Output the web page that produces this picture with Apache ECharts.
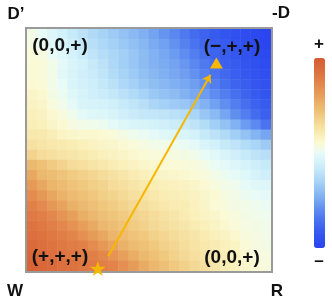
<!DOCTYPE html>
<html><head><meta charset="utf-8">
<script src="https://cdn.jsdelivr.net/npm/echarts/dist/echarts.min.js"></script>
<style>html,body{margin:0;padding:0;background:#fff}#c{width:332px;height:302px}</style>
</head><body><div id="c"></div>
<script>
// Field values (−1 = deep blue, +1 = deep orange), rows from top (D' / -D edge) to bottom (W / R edge), columns left to right
const fieldRows = [
  [0.05,0.00,-0.06,-0.11,-0.16,-0.21,-0.26,-0.30,-0.34,-0.38,-0.42,-0.46,-0.51,-0.57,-0.62,-0.68,-0.74,-0.79,-0.83,-0.87,-0.90,-0.93,-0.96,-0.99],
  [0.07,0.02,-0.03,-0.08,-0.13,-0.18,-0.23,-0.27,-0.31,-0.35,-0.39,-0.43,-0.48,-0.52,-0.58,-0.64,-0.70,-0.76,-0.81,-0.84,-0.88,-0.91,-0.95,-0.98],
  [0.09,0.07,0.00,-0.05,-0.10,-0.15,-0.20,-0.24,-0.28,-0.32,-0.36,-0.41,-0.45,-0.49,-0.54,-0.60,-0.66,-0.72,-0.78,-0.82,-0.86,-0.89,-0.92,-0.97],
  [0.10,0.09,0.04,-0.02,-0.07,-0.11,-0.16,-0.21,-0.27,-0.32,-0.36,-0.41,-0.45,-0.48,-0.51,-0.56,-0.62,-0.68,-0.74,-0.80,-0.83,-0.87,-0.90,-0.93],
  [0.10,0.09,0.05,-0.03,-0.08,-0.12,-0.15,-0.19,-0.25,-0.30,-0.34,-0.39,-0.43,-0.46,-0.49,-0.53,-0.58,-0.64,-0.70,-0.76,-0.81,-0.85,-0.88,-0.91],
  [0.11,0.10,0.05,0.00,-0.07,-0.11,-0.13,-0.17,-0.22,-0.27,-0.31,-0.36,-0.40,-0.43,-0.46,-0.49,-0.53,-0.59,-0.66,-0.72,-0.78,-0.82,-0.86,-0.89],
  [0.14,0.12,0.06,0.02,-0.05,-0.09,-0.12,-0.14,-0.17,-0.22,-0.26,-0.30,-0.35,-0.38,-0.41,-0.45,-0.49,-0.54,-0.60,-0.66,-0.72,-0.78,-0.83,-0.87],
  [0.16,0.14,0.08,0.04,-0.02,-0.07,-0.09,-0.10,-0.12,-0.16,-0.19,-0.23,-0.28,-0.31,-0.34,-0.36,-0.40,-0.45,-0.52,-0.59,-0.66,-0.73,-0.79,-0.83],
  [0.18,0.16,0.12,0.08,0.03,-0.02,-0.05,-0.06,-0.08,-0.12,-0.15,-0.17,-0.18,-0.20,-0.22,-0.24,-0.29,-0.36,-0.42,-0.50,-0.59,-0.66,-0.74,-0.80],
  [0.19,0.18,0.14,0.11,0.07,0.05,0.04,0.02,-0.02,-0.05,-0.07,-0.08,-0.10,-0.12,-0.14,-0.16,-0.20,-0.25,-0.32,-0.38,-0.45,-0.54,-0.61,-0.70],
  [0.23,0.22,0.19,0.15,0.13,0.12,0.12,0.11,0.09,0.06,0.03,0.01,-0.02,-0.04,-0.06,-0.07,-0.11,-0.16,-0.21,-0.26,-0.32,-0.38,-0.44,-0.50],
  [0.27,0.25,0.23,0.22,0.20,0.18,0.16,0.14,0.13,0.11,0.09,0.07,0.05,0.04,0.03,0.01,-0.02,-0.07,-0.11,-0.16,-0.20,-0.25,-0.29,-0.34],
  [0.35,0.30,0.28,0.26,0.24,0.22,0.20,0.18,0.16,0.14,0.12,0.10,0.09,0.08,0.07,0.06,0.04,0.00,-0.03,-0.08,-0.12,-0.16,-0.20,-0.23],
  [0.48,0.44,0.39,0.35,0.30,0.28,0.25,0.23,0.20,0.18,0.16,0.13,0.12,0.11,0.10,0.09,0.08,0.05,0.01,-0.02,-0.06,-0.09,-0.13,-0.16],
  [0.56,0.49,0.46,0.43,0.39,0.36,0.33,0.30,0.27,0.24,0.21,0.18,0.15,0.14,0.13,0.12,0.10,0.08,0.05,0.02,-0.01,-0.05,-0.09,-0.12],
  [0.63,0.56,0.50,0.47,0.43,0.40,0.37,0.34,0.30,0.28,0.25,0.22,0.20,0.18,0.17,0.16,0.14,0.11,0.08,0.05,0.03,-0.01,-0.04,-0.06],
  [0.70,0.64,0.57,0.51,0.47,0.44,0.41,0.37,0.34,0.31,0.28,0.26,0.23,0.20,0.19,0.18,0.16,0.13,0.11,0.07,0.05,0.02,0.00,-0.02],
  [0.76,0.71,0.64,0.58,0.52,0.48,0.45,0.41,0.38,0.35,0.32,0.29,0.26,0.23,0.21,0.20,0.17,0.14,0.10,0.08,0.06,0.05,0.03,0.01],
  [0.80,0.77,0.72,0.66,0.60,0.53,0.49,0.45,0.42,0.39,0.36,0.33,0.30,0.27,0.24,0.21,0.18,0.15,0.13,0.10,0.08,0.06,0.04,0.03],
  [0.84,0.81,0.77,0.73,0.67,0.61,0.55,0.49,0.46,0.43,0.39,0.36,0.32,0.29,0.27,0.24,0.21,0.18,0.15,0.12,0.09,0.07,0.06,0.04],
  [0.87,0.84,0.81,0.78,0.74,0.68,0.62,0.56,0.50,0.47,0.43,0.40,0.36,0.33,0.30,0.27,0.24,0.21,0.18,0.16,0.12,0.08,0.07,0.05],
  [0.90,0.87,0.84,0.81,0.79,0.76,0.70,0.64,0.58,0.52,0.47,0.44,0.40,0.36,0.33,0.29,0.26,0.23,0.21,0.18,0.15,0.10,0.07,0.06],
  [0.92,0.90,0.87,0.84,0.82,0.79,0.77,0.72,0.66,0.60,0.54,0.48,0.44,0.40,0.36,0.32,0.28,0.25,0.22,0.19,0.16,0.12,0.08,0.07],
  [0.95,0.92,0.90,0.87,0.85,0.82,0.80,0.77,0.75,0.68,0.62,0.55,0.49,0.45,0.40,0.36,0.32,0.28,0.24,0.20,0.17,0.13,0.10,0.08]
];
const xCategories = fieldRows[0].map((_, i) => 'c' + i);
const yCategories = fieldRows.map((_, i) => 'r' + i);
const cornerLabels = ['D’', '-D', 'W', 'R'];
const stateLabels = ['(0,0,+)', '(−,+,+)', '(+,+,+)', '(0,0,+)'];
const colorbarLabels = ['+', '–'];
const startPoint = [0.29, 0.01];
const endPoint = [0.776, 0.86];
const arrowPath = [[0.333, 0.061], [0.752, 0.811]];

const heatData = [];
fieldRows.forEach((row, r) => {
  row.forEach((v, c) => heatData.push([c, fieldRows.length - 1 - r, v]));
});

const GOLD = '#f6b700';
const FONT = '"Liberation Sans", Arial, sans-serif';
const chart = echarts.init(document.getElementById('c'), null, {renderer: 'canvas'});

function txt(t, x, y, size) {
  return {type: 'text', z: 100, style: {text: t, x: x, y: y, fill: '#111',
    font: 'bold ' + size + 'px ' + FONT, align: 'center', verticalAlign: 'middle'}};
}

chart.setOption({
  animation: false,
  backgroundColor: '#fff',
  grid: {left: 27, top: 29, width: 244, height: 242, show: false},
  xAxis: [
    {type: 'category', data: xCategories, show: false},
    {type: 'value', min: 0, max: 1, show: false}
  ],
  yAxis: [
    {type: 'category', data: yCategories, show: false},
    {type: 'value', min: 0, max: 1, show: false}
  ],
  visualMap: {
    type: 'continuous', min: -1, max: 1, calculable: false, orient: 'vertical',
    left: 314, top: 58, itemWidth: 11, itemHeight: 190, padding: 0, text: null,
    showLabel: false, seriesIndex: 0,
    inRange: {color: ['#2a44ef','#3050ef','#3b60ef','#4a74ef','#5e8cf0','#76a6f1','#8fbef3','#a7d3f6','#bfe4f8','#d4f2fa','#e8fbf7','#fbfad6','#f9edb4','#f5dc9a','#f0c97f','#ebb56c','#e7a05c','#e48c4f','#df7a44','#da6a3a','#d65c32']}
  },
  series: [
    {type: 'heatmap', data: heatData, xAxisIndex: 0, yAxisIndex: 0,
      itemStyle: {borderWidth: 0}, emphasis: {disabled: true}, silent: true},
    {type: 'lines', coordinateSystem: 'cartesian2d', xAxisIndex: 1, yAxisIndex: 1,
      data: [{coords: arrowPath}], symbol: ['none', 'arrow'], symbolSize: 8,
      lineStyle: {color: GOLD, width: 2, opacity: 1}, silent: true, z: 5},
    {type: 'scatter', xAxisIndex: 1, yAxisIndex: 1, clip: false, z: 120, silent: true,
      data: [startPoint],
      symbol: 'path://M50,0 L61.2,34.5 L97.6,34.5 L68.2,55.9 L79.4,90.5 L50,69.1 L20.6,90.5 L31.8,55.9 L2.4,34.5 L38.8,34.5 Z',
      symbolSize: [16, 15], itemStyle: {color: GOLD, opacity: 1}},
    {type: 'scatter', xAxisIndex: 1, yAxisIndex: 1, clip: false, z: 120, silent: true,
      data: [endPoint], symbol: 'triangle', symbolSize: [13, 11], itemStyle: {color: GOLD, opacity: 1}}
  ],
  graphic: [
    {type: 'rect', z: 90, shape: {x: 26, y: 28, width: 246, height: 244},
      style: {fill: null, stroke: '#9a9a9a', lineWidth: 2}},
    txt(cornerLabels[0], 16, 14, 17),
    txt(cornerLabels[1], 281, 13, 17),
    txt(cornerLabels[2], 15, 291, 17),
    txt(cornerLabels[3], 277, 291, 17),
    txt(stateLabels[0], 60, 46, 19),
    txt(stateLabels[1], 232, 47, 19),
    txt(stateLabels[2], 60, 257, 19),
    txt(stateLabels[3], 232, 258, 19),
    txt(colorbarLabels[0], 319, 44, 17),
    txt(colorbarLabels[1], 319, 261, 17)
  ]
});
</script></body></html>
